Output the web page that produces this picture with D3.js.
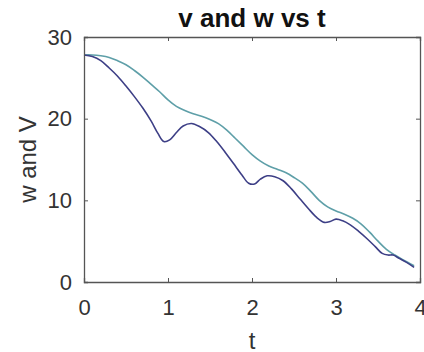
<!DOCTYPE html>
<html>
<head>
<meta charset="utf-8">
<script src="https://cdn.jsdelivr.net/npm/d3@7"></script>
<style>
  html, body { margin: 0; padding: 0; background: #ffffff; }
  svg { display: block; font-family: "Liberation Sans", Arial, Helvetica, sans-serif; }
</style>
</head>
<body>
<svg id="chart" width="424" height="352"></svg>
<script>
// ---- data ----
const tV = [0, 0.1, 0.2, 0.3, 0.4, 0.5, 0.6, 0.7, 0.8, 0.88, 0.95, 1.02, 1.1, 1.18, 1.28, 1.38, 1.48, 1.58, 1.68, 1.78, 1.88, 1.96, 2.03, 2.1, 2.18, 2.27, 2.37, 2.47, 2.57, 2.67, 2.77, 2.86, 2.93, 3.0, 3.08, 3.17, 3.27, 3.37, 3.47, 3.55, 3.62, 3.68, 3.75, 3.84, 3.93];
const vValues = [27.8, 27.6, 27.1, 26.2, 25.2, 24.0, 22.7, 21.3, 19.7, 18.2, 17.2, 17.4, 18.3, 19.1, 19.4, 19.0, 18.3, 17.2, 15.9, 14.5, 13.1, 12.1, 12.0, 12.6, 13.0, 12.9, 12.4, 11.4, 10.2, 9.0, 7.9, 7.3, 7.4, 7.7, 7.5, 7.0, 6.2, 5.3, 4.3, 3.5, 3.3, 3.3, 2.9, 2.4, 1.8];
const tW = [0, 0.1, 0.2, 0.3, 0.4, 0.5, 0.6, 0.7, 0.8, 0.9, 1.0, 1.1, 1.2, 1.3, 1.4, 1.5, 1.6, 1.7, 1.8, 1.9, 2.0, 2.1, 2.2, 2.3, 2.4, 2.5, 2.6, 2.7, 2.8, 2.9, 3.0, 3.1, 3.2, 3.3, 3.4, 3.5, 3.6, 3.7, 3.8, 3.93];
const wValues = [27.8, 27.8, 27.7, 27.5, 27.1, 26.6, 25.9, 25.1, 24.2, 23.3, 22.3, 21.5, 21.0, 20.6, 20.3, 19.9, 19.4, 18.6, 17.6, 16.6, 15.6, 14.8, 14.2, 13.8, 13.4, 12.8, 12.1, 11.1, 10.0, 9.2, 8.7, 8.3, 7.8, 7.1, 6.1, 5.0, 4.0, 3.3, 2.7, 2.0];
const xTicks = [0, 1, 2, 3, 4];
const yTicks = [0, 10, 20, 30];
const titleText = "v and w vs t";
const xLabelText = "t";
const yLabelText = "w and V";

// ---- layout ----
const plot = { left: 84, right: 420, top: 37, bottom: 282 };

const svg = d3.select("#chart");
const x = d3.scaleLinear().domain([0, 4]).range([plot.left, plot.right]);
const y = d3.scaleLinear().domain([0, 30]).range([plot.bottom, plot.top]);

const axisColor = "#555555";
const tickFont = 22;

// lines
const line = d3.line().x(d => x(d[0])).y(d => y(d[1])).curve(d3.curveCatmullRom.alpha(0.5));
const wData = tW.map((t, i) => [t, wValues[i]]);
const vData = tV.map((t, i) => [t, vValues[i]]);

svg.append("path").datum(wData).attr("d", line)
  .attr("fill", "none").attr("stroke", "#5e9fa8").attr("stroke-width", 1.6);
svg.append("path").datum(vData).attr("d", line)
  .attr("fill", "none").attr("stroke", "#3d3f86").attr("stroke-width", 1.6);

// axes (inward ticks, box)
const xAxisB = svg.append("g").attr("transform", `translate(0,${plot.bottom})`)
  .call(d3.axisBottom(x).tickValues(xTicks).tickSize(-4).tickPadding(17).tickFormat(d3.format("d")));
const xAxisT = svg.append("g").attr("transform", `translate(0,${plot.top})`)
  .call(d3.axisTop(x).tickValues(xTicks).tickSize(-4).tickFormat(""));
const yAxisL = svg.append("g").attr("transform", `translate(${plot.left},0)`)
  .call(d3.axisLeft(y).tickValues(yTicks).tickSize(-4).tickPadding(12).tickFormat(d3.format("d")));
const yAxisR = svg.append("g").attr("transform", `translate(${plot.right},0)`)
  .call(d3.axisRight(y).tickValues(yTicks).tickSize(-4).tickFormat(""));

[xAxisB, xAxisT, yAxisL, yAxisR].forEach(g => {
  g.select(".domain").attr("stroke", axisColor).attr("stroke-width", 1.3);
  g.selectAll(".tick line").attr("stroke", axisColor).attr("stroke-width", 1);
  g.selectAll("text").attr("fill", "#333333").style("font-size", tickFont + "px")
    .style("font-family", "'Liberation Sans', Arial, sans-serif");
});

// title
svg.append("text").attr("x", (plot.left + plot.right) / 2).attr("y", 27)
  .attr("text-anchor", "middle").style("font-size", "26px").style("font-weight", "bold")
  .attr("fill", "#111111").text(titleText);

// x label
svg.append("text").attr("x", (plot.left + plot.right) / 2).attr("y", 349)
  .attr("text-anchor", "middle").style("font-size", "24px").attr("fill", "#333333").text(xLabelText);

// y label
svg.append("text").attr("transform", `translate(36,${(plot.top + plot.bottom) / 2}) rotate(-90)`)
  .attr("text-anchor", "middle").style("font-size", "24px").attr("fill", "#333333").text(yLabelText);
</script>
</body>
</html>
